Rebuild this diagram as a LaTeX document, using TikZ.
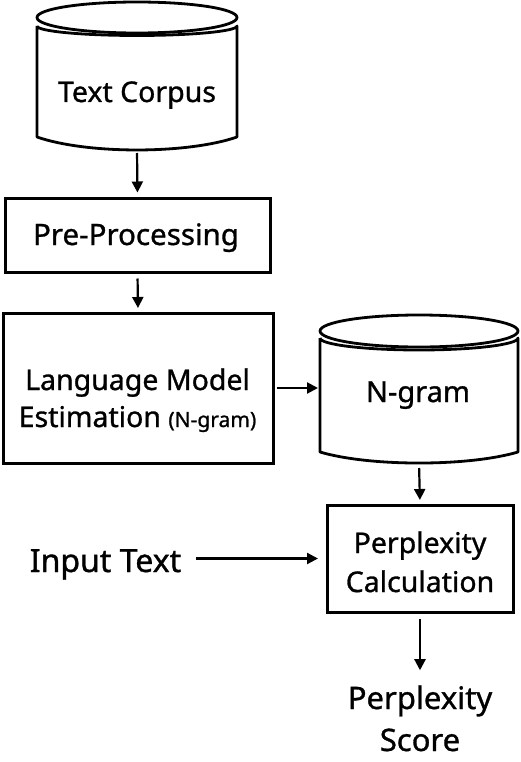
\documentclass[tikz,border=0pt]{standalone}
\usepackage{fontspec}
\setmainfont{Noto Sans}[FakeBold=1]
\usetikzlibrary{arrows.meta}
\begin{document}
\begin{tikzpicture}[x=1pt,y=-1pt,
  box/.style={draw, line width=3pt, inner sep=0pt},
  cyl/.style={line width=2.8pt, line join=round},
  arr/.style={line width=2.2pt, -{Triangle[length=11pt,width=11pt]}},
  lbl/.style={anchor=base, inner sep=0pt},
  fs/.style={lbl, font=\fontsize{#1}{34}\selectfont}
]
\useasboundingbox (0,0) rectangle (520,762);
% Text Corpus cylinder
\draw[cyl] (137,17.5) ellipse [x radius=100pt, y radius=15.5pt];
\draw[cyl] (37,26) -- (37,137) .. controls (87,154.3) and (187,154.3) .. (237,137) -- (237,26)
  .. controls (237,31.2) and (192.2,35.5) .. (137,35.5) .. controls (81.8,35.5) and (37,31.2) .. (37,26);
\coordinate (tcB) at (137,150);
\node[fs=28.5] (tc) at (137,102) {Text Corpus};
% Pre-Processing
\node[box, minimum width=265pt, minimum height=74pt] (pre) at (137.5,235) {};
\node[fs=29.5] (pret) at (136,245) {Pre-Processing};
% Language model
\node[box, minimum width=270pt, minimum height=150pt] (lm) at (138,388) {};
\node[fs=28.5] (lm1) at (137.5,390) {Language Model};
\node[fs=28.5] (lm2) at (137.5,427) {Estimation {\fontsize{21}{24}\selectfont(N-gram)}};
% N-gram cylinder
\draw[cyl] (419,331) ellipse [x radius=99pt, y radius=16pt];
\draw[cyl] (320,338) -- (320,452) .. controls (369.5,466.7) and (468.5,466.7) .. (518,452) -- (518,338)
  .. controls (518,344.6) and (473.6,350) .. (419,350) .. controls (364.4,350) and (320,344.6) .. (320,338);
\coordinate (ngL) at (320,388);
\coordinate (ngB) at (419,463);
\node[fs=29] (ng) at (418,402) {N-gram};
% Perplexity calculation
\node[box, minimum width=186pt, minimum height=107pt] (pc) at (420,558.5) {};
\node[fs=28.5] (pc1) at (420,553) {Perplexity};
\node[fs=28.5] (pc2) at (420,592) {Calculation};
% Input text
\node[fs=32] (in) at (105.5,572) {Input Text};
% Score
\node[fs=31] (sc1) at (420,709) {Perplexity};
\node[fs=31] (sc2) at (420,751) {Score};
% arrows
\draw[arr, shorten <=3pt, shorten >=4pt] (tcB) -- (pre.north);
\draw[arr, shorten <=5pt, shorten >=3.5pt] (pre.south) -- (lm.north);
\draw[arr, shorten <=2pt, shorten >=2pt] (lm.east |- ngL) -- (ngL);
\draw[arr, shorten <=5pt, shorten >=3.5pt] (ngB) -- (pc.north);
\draw[arr, shorten <=15pt, shorten >=7.5pt] (in.east |- pc.west) -- (pc.west);
\draw[arr, shorten <=5pt, shorten >=15pt] (pc.south) -- (sc1.north);
\end{tikzpicture}
\end{document}
